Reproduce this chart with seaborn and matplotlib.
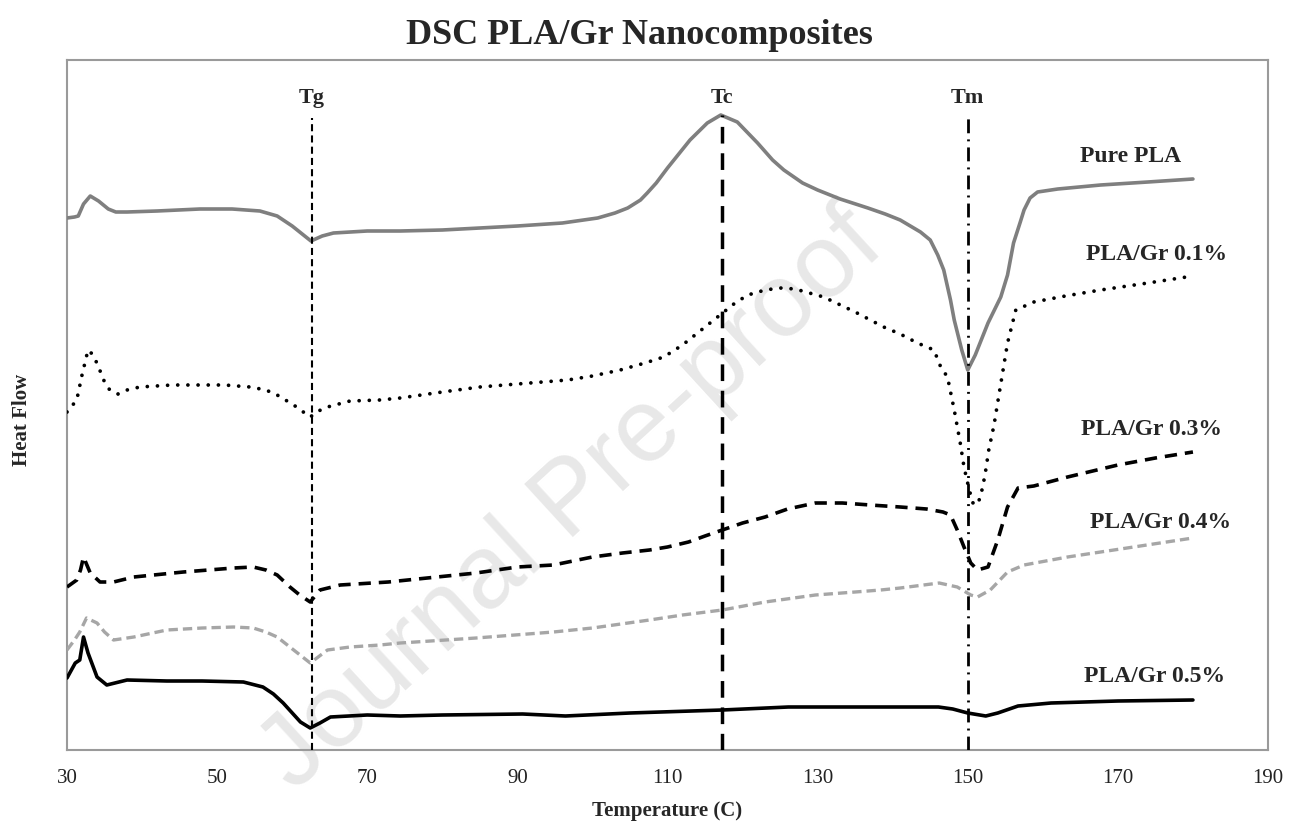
import matplotlib
matplotlib.use("Agg")
import matplotlib.pyplot as plt
import seaborn as sns
import pandas as pd

# ---------------- data (temperature in C, heat flow in arbitrary units) ----------------
pure_T = [30, 31, 31.5, 32.2, 33.1, 34.2, 35.5, 36.5, 38, 42, 47.7, 52, 55.7, 58, 60, 61.5, 62.5,
          64, 65.5, 70, 74.4, 80, 85, 90, 96, 100.7, 103, 104.7, 106.4, 107.3, 108.5, 110, 111.5,
          113, 115.3, 117.1, 119.3, 122, 124, 125.5, 128, 130, 133, 136.7, 139, 141, 143.7, 145,
          146, 146.8, 147.7, 148.2, 149.2, 150, 151, 152.7, 154.4, 155.3, 156.1, 157, 157.5, 158.3,
          159.3, 162, 167.7, 174, 180]
pure_px = [218, 217, 216, 204, 196, 201, 209, 212, 212, 211, 209, 209, 211, 216, 226, 235, 241,
           236, 233, 231, 231, 230, 228, 226, 223, 218, 213, 208, 200, 193, 183, 168, 154,
           140, 123, 115, 122, 143, 160, 170, 183, 190, 199, 208, 214, 220, 232, 240,
           255, 270, 300, 320, 350, 370, 355, 323, 297, 275, 243, 222, 210, 198,
           192, 189, 185, 182, 179]

g01_T = [30, 31.3, 32, 32.8, 33.5, 34.2, 35, 35.7, 36.8, 38, 39.7, 44, 47.7, 51, 54.4, 56.5, 58,
         60.2, 62.4, 63.5, 64.7, 67.7, 71.7, 74.4, 80, 85, 90, 96.7, 100, 103.7, 107, 109.5, 112,
         114, 117, 119, 120.7, 123, 125, 127, 130.8, 135, 138.8, 141, 143.3, 145.5, 146.4, 147.3,
         148.2, 149, 149.5, 150.2, 150.7, 151.2, 151.7, 152.3, 152.8, 153.5, 154, 155.3, 156.4,
         158.8, 163, 167.7, 174, 180]
g01_px = [412, 400, 375, 350, 355, 367, 382, 390, 394, 390, 387, 385, 385, 385, 387, 390, 395,
          405, 417, 411, 407, 401, 400, 398, 392, 387, 384, 380, 376, 370, 363, 357, 345,
          333, 315, 303, 295, 290, 288, 289, 297, 312, 327, 334, 343, 350, 367, 377,
          410, 443, 467, 490, 503, 505, 497, 475, 450, 425, 402, 343, 310,
          302, 296, 290, 283, 276]

g03_T = [30, 31.3, 31.8, 32.2, 33.1, 34.4, 36.2, 38.9, 45.5, 52.2, 54.8, 56.5, 58, 59.7, 61, 62.4,
         63.7, 66.4, 72.8, 78, 84.5, 90, 94.8, 100, 104, 107.6, 110, 112.8, 115, 117.3, 120, 123,
         126, 129.7, 133.3, 137, 141, 144.5, 146.7, 147.7, 148.6, 149.5, 150.4, 151.3, 152.7, 154,
         155.3, 156.7, 158.8, 163.3, 170, 175, 180]
g03_px = [587, 580, 570, 557, 573, 582, 582, 577, 572, 568, 567, 570, 575, 587, 595, 602,
          590, 585, 582, 578, 573, 567, 565, 557, 553, 550, 547, 542, 536, 530, 523, 517,
          509, 503, 503, 505, 507, 509, 512, 515, 530, 547, 563, 570, 567, 540,
          507, 488, 486, 477, 465, 458, 452]

g04_T = [30, 31, 31.7, 32.6, 34, 35, 36.2, 38.9, 43.3, 48, 52.2, 54.8, 56.5, 58, 60.2, 62.4, 64.7,
         67.7, 71.7, 74.4, 84.5, 94.8, 100, 107.6, 112, 117.3, 123, 129.7, 135, 138.4, 141, 146.2,
         148.6, 150.4, 151.3, 153, 155.3, 157.5, 163.3, 172.1, 180]
g04_px = [650, 640, 632, 618, 623, 632, 640, 637, 630, 628, 627, 628, 632, 637, 650, 663, 650,
          647, 645, 643, 638, 632, 628, 620, 615, 610, 602, 595, 592, 590, 588, 583,
          587, 595, 597, 590, 572, 565, 557, 547, 538]

g05_T = [30, 31.1, 31.7, 32.2, 32.8, 34, 35.3, 38, 43.3, 48, 53.5, 56.1, 57.5, 58.8, 61.1, 62.4,
         63.7, 65.1, 70, 74.4, 80, 90.7, 96.4, 105, 117.3, 126.1, 135, 146.1, 148, 150, 152.4, 154,
         156.7, 161.1, 170, 180]
g05_px = [678, 663, 660, 637, 653, 677, 685, 680, 681, 681, 682, 687, 694, 703, 722, 728,
          723, 717, 715, 716, 715, 714, 716, 713, 710, 707, 707, 707, 709, 713, 716, 713,
          706, 703, 701, 700]

series_names = ["Pure PLA", "PLA/Gr 0.1%", "PLA/Gr 0.3%", "PLA/Gr 0.4%", "PLA/Gr 0.5%"]
transition_names = ["Tg", "Tc", "Tm"]
transition_T = [62.6, 117.2, 150.0]
x_ticks = [30, 50, 70, 90, 110, 130, 150, 170, 190]

BASE = 750  # heat-flow values are read as (BASE - image row)

def to_df(T, px):
    return pd.DataFrame({"T": T, "hf": [BASE - p for p in px]})

# ---------------- style ----------------
sns.set_theme(style="white")
plt.rcParams["font.family"] = ["Liberation Serif", "DejaVu Serif"]

fig = plt.figure(figsize=(13.04, 8.36), dpi=100)
ax = fig.add_axes([67 / 1304, (836 - 750) / 836, 1201 / 1304, 690 / 836])

# watermark
ax.text(0.421, 0.36, "Journal Pre-proof", transform=ax.transAxes, rotation=42.5,
        fontsize=75, color="#e8e8e8", family="Liberation Sans", ha="center", va="center",
        zorder=0.5, clip_on=False)

line_specs = [
    (to_df(pure_T, pure_px), "#7f7f7f", 2.6, "-", "butt"),
    (to_df(g01_T, g01_px), "black", 2.7, (0, (0.01, 2.7)), "round"),
    (to_df(g03_T, g03_px), "black", 2.6, (0, (3.4, 2.2)), "butt"),
    (to_df(g04_T, g04_px), "#a6a6a6", 2.4, (0, (2.8, 1.5)), "butt"),
    (to_df(g05_T, g05_px), "black", 2.6, "-", "butt"),
]
for df, col, lw, ls, cap in line_specs:
    sns.lineplot(data=df, x="T", y="hf", ax=ax, color=col, lw=lw, linestyle=ls,
                 dash_capstyle=cap, solid_joinstyle="round", errorbar=None, sort=False,
                 zorder=3)

# transition reference lines
top = BASE - 115
ax.vlines(transition_T[0], 0, top - 3, colors="black", lw=1.5, linestyles=[(0, (3.4, 2.0))], zorder=4)
ax.vlines(transition_T[1], 0, top, colors="black", lw=2.5, linestyles=[(0, (4.8, 2.8))], zorder=4)
ax.vlines(transition_T[2], 0, top, colors="black", lw=2.0, linestyles=[(0, (5, 2.2, 0.7, 2.2))], zorder=4)
for name, t in zip(transition_names, transition_T):
    ax.text(t, BASE - 98, name, ha="center", va="center", fontsize=16, fontweight="bold")

# series labels
label_pos = [(171.7, 157), (175.2, 255), (174.5, 430), (175.7, 522), (174.9, 677)]
for name, (tx, py) in zip(series_names, label_pos):
    ax.text(tx, BASE - py, name, ha="center", va="center", fontsize=17, fontweight="bold")

ax.set_xlim(30, 190)
ax.set_ylim(0, 690)
ax.set_xticks(x_ticks)
ax.set_xticklabels([str(v) for v in x_ticks])
ax.set_yticks([])
ax.tick_params(axis="x", length=0, pad=14, labelsize=15, labelcolor="#222222")
ax.set_xlabel("")
ax.set_ylabel("")
for s in ["left", "right", "bottom", "top"]:
    ax.spines[s].set_visible(True)
    ax.spines[s].set_color("#9a9a9a")
    ax.spines[s].set_linewidth(1.5)

fig.text(639 / 1304, 1 - 35 / 836, "DSC PLA/Gr Nanocomposites", ha="center", va="center",
         fontsize=26, fontweight="bold")
fig.text(667 / 1304, 1 - 811 / 836, "Temperature (C)", ha="center", va="center",
         fontsize=15, fontweight="bold")
fig.text(22 / 1304, 1 - 420 / 836, "Heat Flow", ha="center", va="center", rotation=90,
         fontsize=15, fontweight="bold")

fig.savefig("out.png", dpi=100)
